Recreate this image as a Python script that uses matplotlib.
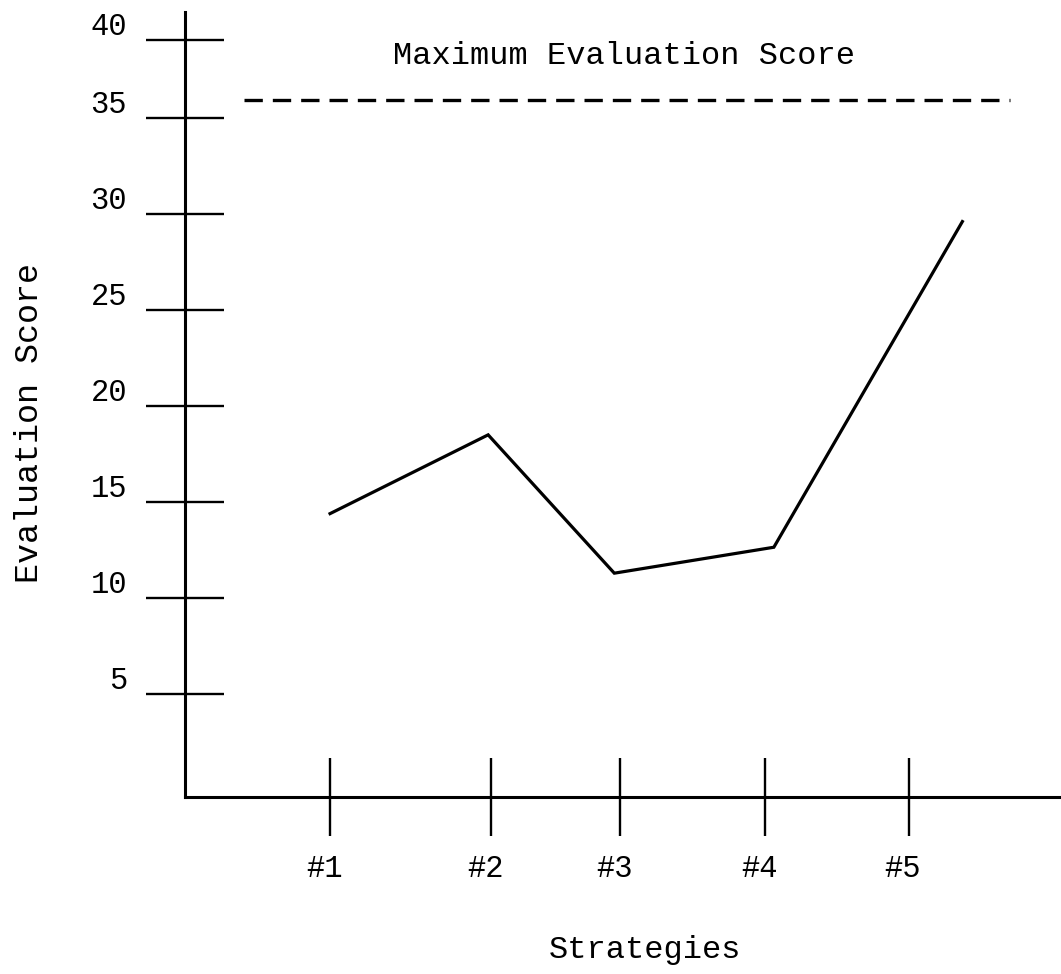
import numpy as np
import matplotlib.pyplot as plt

plt.rcParams['font.family'] = ['Liberation Mono', 'DejaVu Sans Mono']

# strategies (tick positions along the hand-drawn axis) and scores
strategies = ['#1', '#2', '#3', '#4', '#5']
tick_x = [1.0, 2.11, 3.0, 4.0, 4.99]
point_x = [1.0, 2.09, 2.96, 4.06, 5.36]
scores = [14.4, 18.5, 11.3, 12.65, 29.6]

max_score = 36.15
max_x = [0.41, 5.69]

y_ticks = [5, 10, 15, 20, 25, 30, 35, 40]


# the drawn axis is squeezed above 35
def fwd(y):
    y = np.asarray(y, dtype=float)
    return np.where(y > 35, 35 + (y - 35) * 0.81, y)


def inv(y):
    y = np.asarray(y, dtype=float)
    return np.where(y > 35, 35 + (y - 35) / 0.81, y)


fig = plt.figure(figsize=(10.61, 9.74), dpi=100)
ax = fig.add_axes([0.1744, 0.1817, 0.8256, 0.806])
ax.set_yscale('function', functions=(fwd, inv))

ax.plot(point_x, scores, color='black', lw=2.3, solid_joinstyle='miter')
ax.plot(max_x, [max_score, max_score], color='black', lw=2.4, ls=(0, (5.5, 3)))
ax.text(3.03, 38.95, 'Maximum Evaluation Score', ha='center', va='center', fontsize=23)

ax.set_xlim(0, 6.04)
ax.set_ylim(-0.35, 41.8)

for s in ['top', 'right']:
    ax.spines[s].set_visible(False)
for s in ['left', 'bottom']:
    ax.spines[s].set_linewidth(2.2)

ax.set_xticks(tick_x)
ax.set_yticks(y_ticks)
ax.set_xticklabels([])
ax.set_yticklabels([])
ax.minorticks_off()
ax.tick_params(direction='inout', length=56, width=1.7, color='black')

for v in y_ticks:
    ax.annotate(str(v), xy=(0, v), xycoords=ax.get_yaxis_transform(),
                xytext=(-58, 5), textcoords='offset pixels',
                ha='right', va='baseline', fontsize=22)
for t, lab in zip(tick_x, strategies):
    ax.annotate(lab, xy=(t, 0), xycoords=ax.get_xaxis_transform(),
                xytext=(-6, -72), textcoords='offset pixels',
                ha='center', va='center', fontsize=22)

fig.text(30 / 1061, 1 - 423 / 974, 'Evaluation Score', rotation=90,
         ha='center', va='center', fontsize=24)
fig.text(645 / 1061, 1 - 950 / 974, 'Strategies', ha='center', va='center', fontsize=23)

plt.savefig('out.png', dpi=100)
